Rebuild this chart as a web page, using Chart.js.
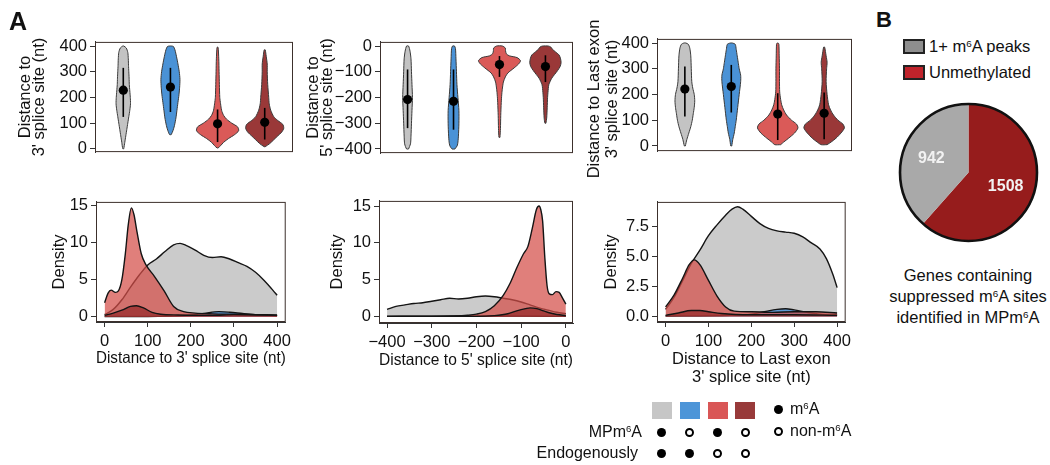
<!DOCTYPE html>
<html><head><meta charset="utf-8">
<script src="https://cdn.jsdelivr.net/npm/chart.js@4.4.1/dist/chart.umd.min.js"></script>
<style>
body{margin:0;background:#fff;}
#root{position:relative;width:1050px;height:465px;overflow:hidden;font-family:"Liberation Sans",Arial,sans-serif;color:#111;}
canvas{position:absolute;}
.t{position:absolute;white-space:nowrap;}
sup{font-size:0.6em;vertical-align:0;position:relative;top:-0.55em;}
</style></head><body><div id="root"></div>
<script>
// ---------------- DATA ----------------
const groupNames = ['MPm6A+/Endo+','MPm6A-/Endo+','MPm6A+/Endo-','MPm6A-/Endo-'];
const mpRow   = [1,0,1,0];
const endoRow = [1,1,0,0];

// violin profiles: [distance, relative density width]
const vio3ss_gray = [[0,0.5],[25,1.5],[50,2.5],[75,3.5],[100,4.5],[125,5.5],[150,6.5],[175,7.2],[200,7],[225,6.5],[250,6],[275,5.8],[300,5.5],[325,5.2],[350,5],[375,4.5],[392,3],[400,0.5]];
const vio3ss_blue = [[55,0.8],[70,2.5],[90,4],[120,5.5],[150,6.5],[180,7.5],[210,8.5],[240,9.2],[270,9.5],[300,8.8],[330,7.5],[360,6],[385,4.5],[398,3],[400,1]];
const vio3ss_red  = [[3,0.5],[12,3],[25,6],[40,11],[55,17],[70,21],[85,20],[100,14],[115,9],[130,6],[150,4],[175,3],[200,2.2],[250,1.8],[300,1.5],[350,1.2],[395,0.5]];
const vio3ss_dark = [[8,0.5],[20,5],[35,9],[50,13],[65,17],[80,19],[95,18],[110,13],[125,9],[150,6],[175,4.5],[200,4],[250,3],[300,2.5],[330,2.5],[360,1.5],[385,0.5]];
const sum3ss = [[228,124,315],[240,143,315],[97,26,153],[103,36,159]]; // [mean, low, high]

const vio5ss_gray = [[-400,1],[-380,3],[-350,3.5],[-300,4],[-250,4.5],[-200,5],[-150,4.5],[-100,4],[-50,3.5],[-20,2.5],[0,1]];
const vio5ss_blue = [[-400,1.5],[-385,4],[-350,5],[-300,5.5],[-250,5.5],[-200,4.5],[-150,3.5],[-100,3],[-50,2.5],[-10,2],[0,1]];
const vio5ss_red  = [[-355,0.5],[-320,1],[-270,1.3],[-220,1.8],[-190,2.3],[-170,2.8],[-140,4],[-120,6],[-105,8.5],[-85,15],[-70,19.5],[-57,21.5],[-45,18],[-38,10],[-30,7],[-18,6.2],[-8,6],[0,3]];
const vio5ss_dark = [[-300,0.5],[-280,1.3],[-240,1.8],[-200,2.2],[-180,2.6],[-150,3.5],[-125,6.5],[-110,9.5],[-95,12.5],[-80,15],[-65,16],[-50,15.5],[-35,14],[-22,10],[-12,7],[-4,5.5],[0,3]];
const sum5ss = [[-208,-319,-91],[-215,-325,-91],[-72,-120,-39],[-80,-140,-36]];

const vioLe_gray = [[0,0.5],[25,2],[50,4],[75,6],[100,7.5],[125,8.5],[150,9.5],[175,10],[200,9.5],[225,8],[250,7],[300,6.5],[350,6],[380,5],[395,3.5],[400,1]];
const vioLe_blue = [[0,0.5],[25,1.5],[50,3],[75,4],[100,5],[150,6.5],[200,8],[250,9.5],[275,9.5],[300,8],[325,7],[350,6],[375,5],[395,4],[400,1]];
const vioLe_red  = [[5,3],[15,6],[30,11],[50,17],[70,20.5],[85,19],[100,14],[120,9],[140,6],[160,4],[180,3],[210,2],[250,1.8],[300,1.8],[350,1.5],[395,1.2],[400,0.5]];
const vioLe_dark = [[5,3],[15,7],[30,12],[50,17],[70,20.5],[85,19],[100,14],[120,9.5],[140,6.5],[160,4.5],[200,3],[250,2],[300,2.5],[325,3],[350,2],[384,0.5]];
const sumLe = [[221,114,309],[231,130,315],[124,23,205],[127,26,208]];

// density curves: [distance, density]
const dens3ss_gray = [[0,0.3],[20,1],[40,2.3],[60,4],[80,5.6],[100,7],[120,7.8],[140,8.8],[160,9.7],[175,9.9],[190,9.6],[210,9],[230,8.3],[250,8],[270,8.1],[290,7.8],[310,7.3],[330,6.8],[350,6],[370,4.9],[390,3.6],[400,2.9]];
const dens3ss_blue = [[0,0.05],[100,0.05],[150,0.1],[200,0.25],[230,0.45],[265,0.7],[290,0.62],[320,0.45],[350,0.3],[380,0.2],[400,0.15]];
const dens3ss_red  = [[0,1.9],[8,3.2],[15,3.6],[25,3.3],[32,3.5],[40,5],[48,8.5],[55,12.5],[62,14.7],[68,13.8],[75,11.5],[85,8.5],[96,7],[115,5.5],[138,3.5],[160,1.4],[183,0.7],[210,0.5],[250,0.4],[300,0.35],[350,0.3],[400,0.25]];
const dens3ss_dark = [[0,0.2],[20,0.5],[40,0.9],[60,1.4],[74,1.5],[90,1.2],[110,0.6],[130,0.35],[170,0.25],[250,0.2],[300,0.3],[350,0.25],[400,0.2]];

const dens5ss_gray = [[-400,1.0],[-380,1.4],[-360,1.6],[-340,1.8],[-320,1.9],[-300,2.1],[-280,2.3],[-260,2.5],[-240,2.4],[-220,2.5],[-200,2.7],[-180,2.8],[-160,2.7],[-140,2.5],[-120,2.3],[-100,2.0],[-80,1.6],[-60,1.2],[-40,0.9],[-20,0.6],[0,0.4]];
const dens5ss_blue = [[-400,0.05],[-300,0.08],[-200,0.1],[-100,0.1],[0,0.05]];
const dens5ss_red  = [[-400,0.05],[-300,0.05],[-250,0.1],[-220,0.2],[-200,0.35],[-180,0.7],[-160,1.5],[-140,2.9],[-125,4.5],[-110,6.6],[-95,8.5],[-85,9.5],[-75,12],[-66,14.5],[-60,15],[-56,14.5],[-52,13],[-47,8],[-42,4.2],[-37,3.1],[-30,3.0],[-22,3.4],[-15,3.3],[-8,2.6],[0,1.7]];
const dens5ss_dark = [[-400,0.05],[-200,0.05],[-160,0.15],[-130,0.4],[-110,0.8],[-90,1.1],[-80,1.2],[-65,1.1],[-50,0.8],[-35,0.5],[-20,0.3],[0,0.15]];

const densLe_gray = [[0,0.6],[20,1.6],[40,3.0],[60,4.4],[80,5.5],[100,6.7],[120,7.6],[140,8.4],[155,8.9],[168,9.1],[180,8.9],[200,8.3],[220,7.7],[240,7.3],[260,7.1],[280,7.0],[300,6.9],[320,6.6],[340,6.1],[360,5.6],[375,4.8],[390,3.5],[400,2.4]];
const densLe_blue = [[0,0.05],[150,0.1],[200,0.2],[230,0.4],[260,0.6],[280,0.65],[300,0.55],[330,0.35],[360,0.2],[400,0.15]];
const densLe_red  = [[0,0.8],[20,1.8],[40,3.2],[55,4.3],[67,4.7],[80,4.3],[100,3.0],[120,1.7],[140,0.8],[160,0.45],[200,0.4],[250,0.35],[300,0.4],[350,0.4],[400,0.3]];
const densLe_dark = [[0,0.1],[30,0.3],[60,0.5],[80,0.5],[100,0.4],[130,0.25],[200,0.15],[300,0.15],[400,0.1]];

// tick labels
const ticksTop3ss = [0,100,200,300,400];
const ticksTop5ss = [-400,-300,-200,-100,0];
const ticksTopLe  = [0,100,200,300,400];
const ticksDens15 = [0,5,10,15];
const ticksDensLe = [0,2.5,5,7.5];
const ticksX3ss = [0,100,200,300,400];
const ticksX5ss = [-400,-300,-200,-100,0];

// pie
const pieLabels = ['Unmethylated','1+ m6A peaks'];
const pieValues = [1508, 942];

// ---------------- STYLE ----------------
const FONT = "'Liberation Sans', Arial, sans-serif";
const FS = 16.5;
const vioColors  = ['#c3c3c3','#4a92d6','#da5a58','#9a3838'];
const densColors = ['rgba(188,188,188,0.78)','rgba(74,146,214,0.85)','rgba(212,78,72,0.72)','rgba(150,42,42,0.72)'];
const legColors  = ['#c6c6c6','#4d95d8','#d95656','#983a3a'];
const pieColors  = ['#961c1c','#a9a9a9'];
const legPieColors = ['#c0232b','#8e8e8e'];
Chart.defaults.font.family = FONT;
Chart.defaults.font.size = FS;
Chart.defaults.color = '#111';

const root = document.getElementById('root');
function mkCanvas(l,t,w,h){
  const c=document.createElement('canvas');
  c.width=w;c.height=h;c.style.left=l+'px';c.style.top=t+'px';c.style.width=w+'px';c.style.height=h+'px';
  root.appendChild(c);return c;
}
function txt(html,l,t,style){
  const d=document.createElement('div');d.className='t';d.innerHTML=html;
  d.style.left=l+'px';d.style.top=t+'px';
  if(style) d.style.cssText+=';'+style;
  root.appendChild(d);return d;
}
const frame={id:'frame',afterDraw(chart){const {ctx,chartArea:a}=chart;ctx.save();ctx.strokeStyle='#3c302c';ctx.lineWidth=1;ctx.strokeRect(a.left+0.5,a.top+0.5,a.width-1,a.height-1);ctx.restore();}};

const minus = v => v<0 ? '\u2212'+Math.abs(v) : String(v);
const fix1 = v => Number(v).toFixed(1);

function yAxis(min,max,ticks,fmt,title,lh,yW){
  return {type:'linear',position:'left',min,max,
    afterFit(s){s.width=yW;},
    afterBuildTicks(s){s.ticks=ticks.map(v=>({value:v}));},
    grid:{drawOnChartArea:false,drawTicks:true,tickLength:5,color:'#333',lineWidth:1},
    border:{display:true,color:'#333',width:1},
    ticks:{callback:fmt,padding:3,color:'#111',autoSkip:false,font:{size:FS}},
    title:{display:!!title,text:title||'',color:'#111',font:{size:FS,lineHeight:lh},padding:{top:0,bottom:0}}};
}
function xAxis(min,max,ticks,fmt,title,lh,xH){
  return {type:'linear',position:'bottom',min,max,
    afterFit(s){s.height=xH;},
    afterBuildTicks(s){s.ticks=ticks.map(v=>({value:v}));},
    grid:{drawOnChartArea:false,drawTicks:true,tickLength:5,color:'#333',lineWidth:1},
    border:{display:true,color:'#333',width:1},
    ticks:{callback:fmt,padding:5,color:'#111',autoSkip:false,maxRotation:0,font:{size:FS}},
    title:{display:true,text:title,color:'#111',font:{size:FS,lineHeight:lh},padding:{top:0,bottom:0}}};
}
function panel(box,yW,xH,xs,ys,datasets){
  const pl=1,pt=3,pr=3,pb=1;
  const L=box.l-yW-pl,T=box.t-pt,W=(box.r-box.l)+yW+pl+pr,H=(box.b-box.t)+xH+pt+pb;
  const c=mkCanvas(L,T,W,H);
  return new Chart(c,{type:'line',data:{datasets},
    options:{responsive:false,animation:false,devicePixelRatio:1,
      layout:{autoPadding:false,padding:{left:pl,top:pt,right:pr,bottom:pb}},
      plugins:{legend:{display:false},tooltip:{enabled:false}},
      scales:{x:xs,y:ys}},
    plugins:[frame]});
}
function violinSets(profiles,summaries){
  const k=1/47, sets=[];
  profiles.forEach((prof,i)=>{
    const c=i+1;
    const right=prof.map(([v,w])=>({x:c+w*k,y:v}));
    const left=prof.slice().reverse().map(([v,w])=>({x:c-w*k,y:v}));
    const pts=right.concat(left);pts.push(right[0]);
    sets.push({data:pts,fill:'shape',backgroundColor:vioColors[i],borderColor:'#3a3a3a',borderWidth:1,pointRadius:0,tension:0.25,order:3});
    const [m,lo,hi]=summaries[i];
    sets.push({data:[{x:c,y:lo},{x:c,y:hi}],borderColor:'#000',borderWidth:1.6,pointRadius:0,fill:false,order:2});
    sets.push({data:[{x:c,y:m}],showLine:false,pointRadius:4.6,pointBackgroundColor:'#000',pointBorderColor:'#000',pointBorderWidth:0,order:1});
  });
  return sets;
}
function densSets(series){
  const ord=[4,3,2,1];
  return series.map((s,i)=>({data:s.map(([x,y])=>({x,y})),fill:'origin',backgroundColor:densColors[i],borderColor:'#141414',borderWidth:1.4,pointRadius:0,cubicInterpolationMode:'monotone',order:ord[i]}));
}
const hiddenX={type:'linear',min:0.4,max:4.6,display:false};

// ---------------- TOP VIOLINS ----------------
panel({l:95,t:32,r:293,b:164},77,0,hiddenX,
  yAxis(-13,416,ticksTop3ss,minus,['Distance to',"3' splice site (nt)"],0.88,77),
  violinSets([vio3ss_gray,vio3ss_blue,vio3ss_red,vio3ss_dark],sum3ss));
panel({l:380,t:32,r:573,b:165},74,0,hiddenX,
  yAxis(-416,16,ticksTop5ss,minus,['Distance to',"5' splice site (nt)"],0.88,74),
  violinSets([vio5ss_gray,vio5ss_blue,vio5ss_red,vio5ss_dark],sum5ss));
panel({l:657,t:29,r:852,b:163},73,0,hiddenX,
  yAxis(-20,416,ticksTopLe,minus,null,1.1,73),
  violinSets([vioLe_gray,vioLe_blue,vioLe_red,vioLe_dark],sumLe));
// long two-line axis title of the third violin panel (extends past the plot box)
txt('Distance to Last exon<br>3\' splice site (nt)',601.5-100,98.5-18,
  `width:200px;height:36px;text-align:center;font-size:${FS}px;line-height:18px;transform:rotate(-90deg);transform-origin:100px 18px;`);

// ---------------- BOTTOM DENSITIES ----------------
panel({l:96,t:192,r:293,b:322},46,46,
  xAxis(-20,420,ticksX3ss,minus,"Distance to 3' splice site (nt)",1.2,46),
  yAxis(-0.7,15.5,ticksDens15,minus,'Density',1.2,46),
  densSets([dens3ss_gray,dens3ss_blue,dens3ss_red,dens3ss_dark]));
panel({l:379,t:191,r:573,b:323},51,47,
  xAxis(-418,16,ticksX5ss,minus,"Distance to 5' splice site (nt)",1.2,47),
  yAxis(-0.85,15.7,ticksDens15,minus,'Density',1.2,51),
  densSets([dens5ss_gray,dens5ss_blue,dens5ss_red,dens5ss_dark]));
panel({l:657,t:192,r:853,b:322},55,65,
  xAxis(-20,420,ticksX3ss,minus,['Distance to Last exon',"3' splice site (nt)"],1.1,65),
  yAxis(-0.45,9.5,ticksDensLe,fix1,'Density',1.2,55),
  densSets([densLe_gray,densLe_blue,densLe_red,densLe_dark]));

// ---------------- PIE ----------------
const pieDecor={id:'pieDecor',afterDatasetsDraw(chart){
  const {ctx}=chart;const meta=chart.getDatasetMeta(0);
  const a0=meta.data[0];
  ctx.save();ctx.beginPath();ctx.arc(a0.x,a0.y,a0.outerRadius,0,Math.PI*2);ctx.lineWidth=2.6;ctx.strokeStyle='#111';ctx.stroke();
  ctx.fillStyle='#f2f2f2';ctx.font='bold 16px '+FONT;ctx.textAlign='center';ctx.textBaseline='middle';
  meta.data.forEach((arc,i)=>{const mid=(arc.startAngle+arc.endAngle)/2;const r=arc.outerRadius*0.58;
    ctx.fillText(String(chart.data.datasets[0].data[i]),arc.x+Math.cos(mid)*r,arc.y+Math.sin(mid)*r);});
  ctx.restore();}};
new Chart(mkCanvas(898,102,141,141),{type:'pie',
  data:{labels:pieLabels,datasets:[{data:pieValues,backgroundColor:pieColors,borderWidth:0}]},
  options:{responsive:false,animation:false,devicePixelRatio:1,layout:{padding:2},
    plugins:{legend:{display:false},tooltip:{enabled:false}}},
  plugins:[pieDecor]});

// ---------------- TEXT / LEGENDS ----------------
txt('A',9,9,'font-weight:bold;font-size:25px;line-height:25px;');
txt('B',876,9,'font-weight:bold;font-size:22px;line-height:22px;');
const pieLegOrder=[1,0];
pieLegOrder.forEach((idx,r)=>{
  const y=39+r*26;
  const sq=document.createElement('div');sq.className='t';
  sq.style.cssText=`left:903px;top:${y}px;width:18px;height:11px;border:2px solid #222;background:${legPieColors[idx]};`;
  root.appendChild(sq);
  txt(pieLabels[idx].replace('m6A','m<sup>6</sup>A'),929,y-2,'font-size:16.5px;line-height:19px;');
});
['Genes containing','suppressed m<sup>6</sup>A sites','identified in MPm<sup>6</sup>A'].forEach((s,i)=>{
  txt(s,868,265+i*21,'width:200px;text-align:center;font-size:16.5px;line-height:20px;');
});
const sqX=[652,680,708,735], dotCx=[661,689,717,745];
legColors.forEach((c,i)=>{const d=document.createElement('div');d.className='t';
  d.style.cssText=`left:${sqX[i]}px;top:402px;width:20px;height:17px;background:${c};`;root.appendChild(d);});
function dot(cx,cy,filled){const d=document.createElement('div');d.className='t';
  d.style.cssText=filled?`left:${cx-4.5}px;top:${cy-4.5}px;width:9px;height:9px;border-radius:50%;background:#000;`
    :`left:${cx-4.5}px;top:${cy-4.5}px;width:9px;height:9px;box-sizing:border-box;border-radius:50%;border:2px solid #000;`;root.appendChild(d);}
mpRow.forEach((v,i)=>dot(dotCx[i],432,v));
endoRow.forEach((v,i)=>dot(dotCx[i],453,v));
txt('MPm<sup>6</sup>A',0,422,'width:642px;text-align:right;font-size:16px;line-height:20px;');
txt('Endogenously',0,443,'width:638px;text-align:right;font-size:16px;line-height:20px;');
dot(778,409,1);dot(778,431,0);
txt('m<sup>6</sup>A',790,399,'font-size:16px;line-height:20px;');
txt('non-m<sup>6</sup>A',790,421,'font-size:16px;line-height:20px;');
</script></body></html>
